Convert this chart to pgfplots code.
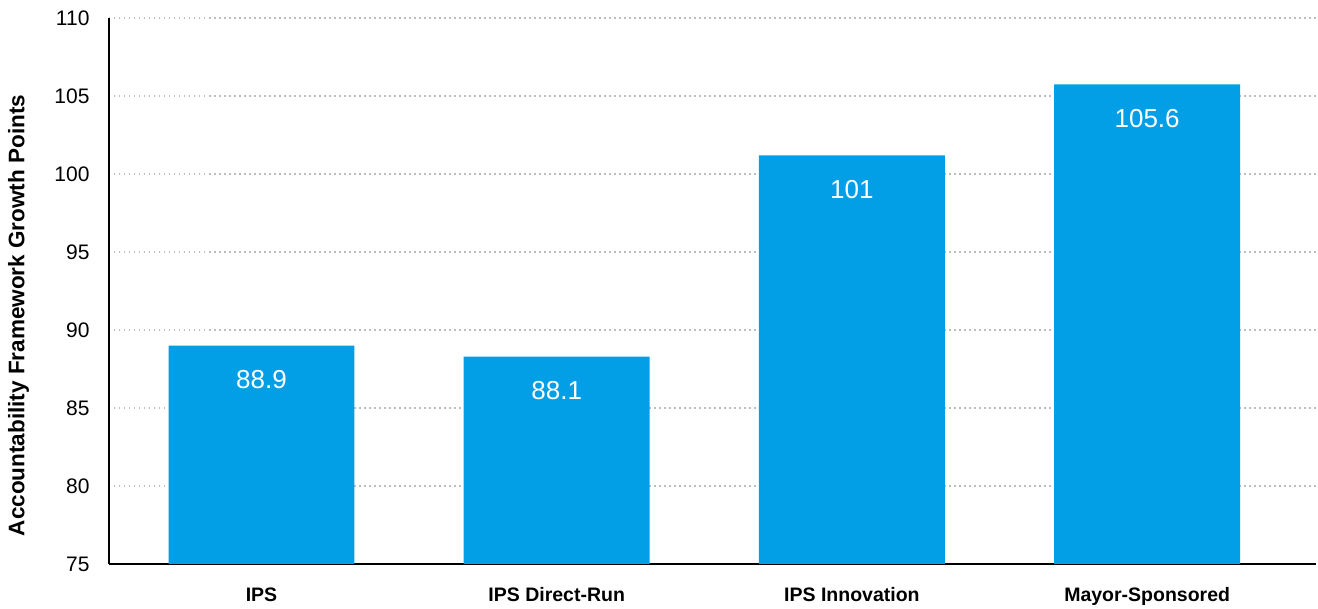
\documentclass[border=0pt]{standalone}
\usepackage{fontspec}
\setmainfont{Liberation Sans}
\usepackage{pgfplots}
\pgfplotsset{compat=1.18}
\usetikzlibrary{calc}
\definecolor{barblue}{HTML}{039FE6}
\definecolor{gridgray}{HTML}{BDBDBD}
\begin{document}
\begin{tikzpicture}
\begin{axis}[
  width=1207pt, height=546pt, scale only axis,
  xmin=-0.5166, xmax=3.572, ymin=75, ymax=110,
  ytick={75,80,85,90,95,100,105,110},
  xtick={0,1,2,3},
  xticklabels={IPS, IPS Direct-Run, IPS Innovation, Mayor-Sponsored},
  axis x line*=bottom, axis y line*=left,
  axis line style={line width=2pt, black},
  major tick length=0pt,
  ymajorgrids,
  major grid style={gridgray, line width=1.5pt, dash pattern=on 1.5pt off 3.5pt},
  /pgf/number format/assume math mode=true,
  yticklabel style={font=\fontsize{21}{25}\selectfont, anchor=east, xshift=-16pt},
  xticklabel style={font=\bfseries\fontsize{19.5}{24}\selectfont, anchor=north, yshift=-20pt},
  ylabel={Accountability Framework Growth Points},
  every axis y label/.append style={at={(axis description cs:-0.075,0.455)}, anchor=center, font=\bfseries\fontsize{22.5}{26}\selectfont},
  point meta=explicit symbolic,
  nodes near coords,
  every node near coord/.append style={font=\fontsize{26}{30}\selectfont, color=white, anchor=center, yshift=-34pt},
]
\addplot[ybar, bar width=0.63, fill=barblue, draw=none] coordinates {
  (0,89.0) [88.9]
  (1,88.3) [88.1]
  (2,101.2) [101]
  (3,105.75) [105.6]
};
\end{axis}
\pgfresetboundingbox
\path[use as bounding box] ($(current axis.south west)+(-109pt,-45pt)$) rectangle ($(current axis.north east)+(2pt,18pt)$);
\end{tikzpicture}
\end{document}
